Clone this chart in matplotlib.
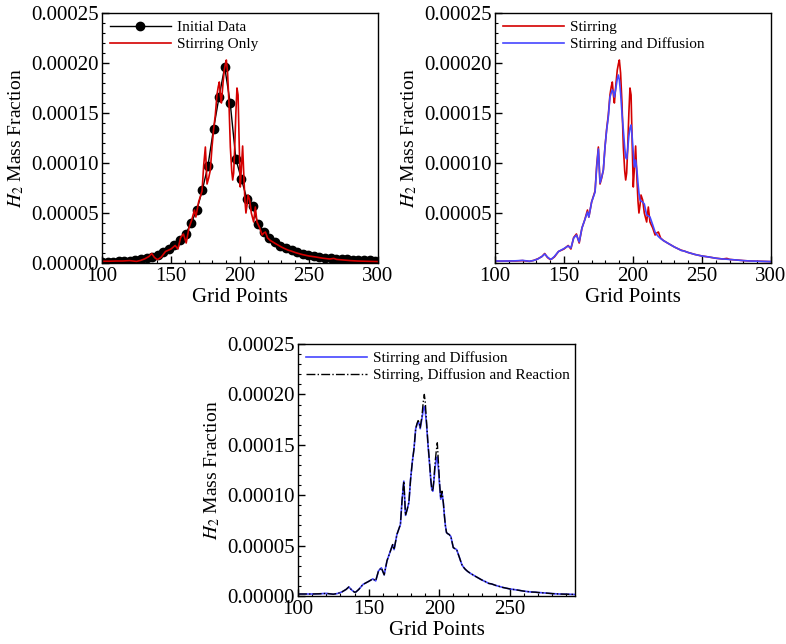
import numpy as np
import matplotlib
matplotlib.use("Agg")
import matplotlib.pyplot as plt
from matplotlib.ticker import MultipleLocator, FormatStrFormatter, FixedLocator

plt.rcParams['font.family'] = ['Liberation Serif', 'DejaVu Serif']
plt.rcParams['mathtext.fontset'] = 'stix'

# initial profile (markers), values in 1e-6
init_x = [100, 104, 108.1, 112.1, 116.2, 120.2, 124.2, 128.3, 132.3, 136.4,
          140.4, 144.4, 148.5, 152.5, 156.6, 160.6, 164.6, 168.7, 172.7, 176.8,
          180.8, 184.8, 188.9, 192.9, 197, 201, 205, 209.1, 213.1, 217.2,
          221.2, 225.2, 229.3, 233.3, 237.4, 241.4, 245.4, 249.5, 253.5, 257.6,
          261.6, 265.6, 269.7, 273.7, 277.8, 281.8, 285.8, 289.9, 293.9, 298]
init_y = [1.2, 1.3, 1.5, 1.7, 2.0, 2.4, 2.9, 3.6, 4.6, 6.0,
          8.0, 10.8, 14.5, 18.5, 23.5, 29, 40, 53, 73, 97.5,
          134, 166, 196, 160, 104, 84, 64, 57, 39, 31,
          25.5, 21, 17.5, 14.8, 12.6, 10.8, 9.3, 8.0, 7.0, 6.2,
          5.5, 4.9, 4.4, 4.0, 3.6, 3.3, 3.0, 2.8, 2.6, 2.4]

# simulated profiles on the grid, values in 1e-6
grid_x = [100, 105, 110, 115, 120, 125, 128, 131, 134, 136, 138, 140, 141, 143, 146,
          150, 153, 155, 157, 159, 161, 163, 165, 167, 168, 170, 172.5, 173.7, 174.9,
          176.1, 177.3, 178.5, 179.7, 180.9, 182.1, 183.3, 184.2, 185, 185.8, 186.5,
          187.7, 188.6, 189.4, 190.1, 191, 192, 193, 194, 194.7, 195.4, 196.1, 197,
          197.8, 198.6, 199.4, 200.2, 201, 201.9, 202.9, 203.6, 204.3, 205.1, 205.8,
          207, 208.2, 209.9, 211.1, 212.3, 214.3, 216, 217.2, 218.4, 220, 222, 225,
          230, 233, 235, 237, 240, 245, 250, 255, 260, 265, 268, 270, 275, 280, 285,
          290, 295, 300]
stirring = [1.8, 1.8, 2, 2, 2.4, 1.6, 2.6, 4.2, 6.5, 9.5, 5.5, 3.5, 4, 6, 11.5,
            14, 17.5, 14, 25.5, 29, 20, 35, 43, 53, 46, 61, 72, 98, 116,
            79, 85, 93, 116, 134, 148, 168, 176, 181, 168, 160,
            180, 193, 199, 203, 190, 160, 116, 92, 83, 90, 113, 150,
            175, 168, 120, 76, 95, 117, 83, 62, 50, 58, 68,
            63, 50, 41, 56, 41, 35, 28, 30, 31, 25, 22.5, 20,
            16, 14, 12.8, 12, 10.5, 8.5, 7, 6, 4.8, 4, 4.6, 3.6, 3, 2.4, 2,
            1.8, 1.6, 1.4]
diffusion = [2, 2, 2, 2.2, 2.6, 1.8, 2.5, 4, 6.5, 9, 6, 3.8, 4, 6.5, 11.5,
             14.5, 17, 15, 25, 28, 21, 35, 43, 51, 46, 61, 71, 96, 114,
             80, 86, 93, 116, 133, 146, 166, 170, 173, 171, 166,
             176, 184, 188, 183, 170, 150, 133, 115, 106, 104, 113, 127,
             135, 138, 126, 110, 96, 103, 92, 80, 70, 63, 62,
             61, 59, 48, 47, 46, 38, 31, 28.5, 26.5, 24.5, 22.5, 20,
             16, 14, 12.5, 12, 10.5, 8.5, 7, 6, 4.8, 4, 3.8, 3.5, 3, 2.4, 2,
             1.8, 1.6, 1.4]
reaction = [2, 2, 2, 2.2, 2.6, 1.8, 2.5, 4, 6.5, 9, 6, 3.8, 4, 6.5, 11.5,
            14.5, 17, 15, 25, 28, 21, 35, 43, 51, 46, 61, 71, 96, 114,
            80, 86, 93, 116, 133, 146, 166, 171, 174, 172, 167,
            178, 192, 200, 192, 172, 151, 134, 115, 106, 104, 114, 132,
            143, 152, 132, 112, 97, 104, 92, 80, 70, 63, 62,
            61, 59, 48, 47, 46, 38, 31, 28.5, 26.5, 24.5, 22.5, 20,
            16, 14, 12.5, 12, 10.5, 8.5, 7, 6, 4.8, 4, 3.8, 3.5, 3, 2.4, 2,
            1.8, 1.6, 1.4]

scale = 1e-6
red = '#d40000'
blue = '#4646ff'

fig = plt.figure(figsize=(7.86, 6.44), dpi=100)
ax1 = fig.add_axes([0.1298, 0.5916, 0.3511, 0.3882])
ax2 = fig.add_axes([0.6298, 0.5916, 0.3511, 0.3882])
ax3 = fig.add_axes([0.3791, 0.0745, 0.3524, 0.3913])


def style(ax, xmax, show_zero=True):
    ax.set_xlim(100, xmax)
    ax.set_ylim(0, 0.00025)
    ax.xaxis.set_major_locator(MultipleLocator(50))
    ax.xaxis.set_minor_locator(MultipleLocator(10))
    if show_zero:
        ax.yaxis.set_major_locator(MultipleLocator(0.00005))
    else:
        ax.yaxis.set_major_locator(FixedLocator([0.00005, 0.0001, 0.00015, 0.0002, 0.00025]))
    ax.yaxis.set_minor_locator(MultipleLocator(0.00001))
    ax.yaxis.set_major_formatter(FormatStrFormatter('%.5f'))
    ax.tick_params(which='both', direction='in', top=False, right=False, labelsize=15)
    ax.tick_params(axis='y', pad=2)
    ax.tick_params(axis='x', pad=3)
    ax.tick_params(which='major', length=5, width=1)
    ax.tick_params(which='minor', length=2.5, width=0.8)
    for s in ax.spines.values():
        s.set_linewidth(1.0)
    ax.set_xlabel('Grid Points', fontsize=15, labelpad=1)
    ax.set_ylabel('$H_2$ Mass Fraction', fontsize=14, labelpad=4)


ax1.plot(init_x, np.array(init_y) * scale, color='black', lw=1.0, marker='o',
         markersize=6, label='Initial Data')
ax1.plot(grid_x, np.array(stirring) * scale, color=red, lw=1.2, label='Stirring Only')
style(ax1, 300)

ax2.plot(grid_x, np.array(stirring) * scale, color=red, lw=1.2, label='Stirring')
ax2.plot(grid_x, np.array(diffusion) * scale, color=blue, lw=1.2, label='Stirring and Diffusion')
style(ax2, 300, show_zero=False)

ax3.plot(grid_x, np.array(diffusion) * scale, color=blue, lw=1.2, label='Stirring and Diffusion')
ax3.plot(grid_x, np.array(reaction) * scale, color='black', lw=1.0, ls='-.',
         label='Stirring, Diffusion and Reaction')
style(ax3, 296)

for ax in (ax1, ax2, ax3):
    ax.legend(loc='upper left', frameon=False, fontsize=11, handlelength=4,
              borderaxespad=0.1, labelspacing=0.2, handletextpad=0.4)

fig.savefig('out.png', dpi=100)
